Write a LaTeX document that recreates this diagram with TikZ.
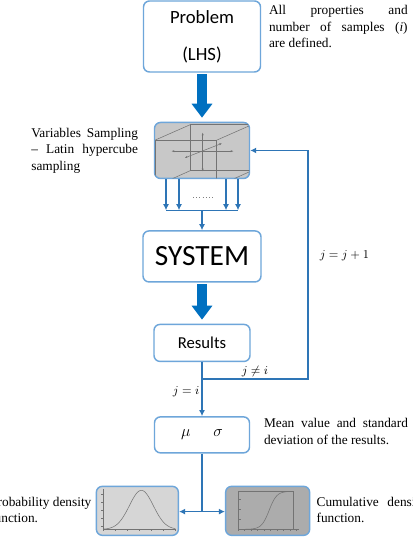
\documentclass[tikz,border=0pt]{standalone}
\usepackage{fontspec}
\setmainfont{Liberation Serif}
\newfontfamily\boxfont{Carlito}
\usepackage{tikz}
\usetikzlibrary{arrows.meta,calc,positioning}
\definecolor{lineblue}{RGB}{46,117,182}
\definecolor{boxblue}{RGB}{110,166,218}
\definecolor{fatblue}{RGB}{0,112,192}
\definecolor{sampgray}{RGB}{200,200,200}
\definecolor{pdfgray}{RGB}{214,214,214}
\definecolor{cdfgray}{RGB}{172,172,172}
\tikzstyle{blk}=[draw=boxblue,line width=1.1pt,rounded corners=4.5pt,fill=white,text centered,inner sep=0pt,font=\boxfont]
\tikzstyle{note}=[inner sep=0pt,font=\fontsize{10}{12.4}\selectfont]
\tikzstyle{lbl}=[text=black,font=\fontsize{9.5}{11}\selectfont]
\tikzstyle{fat}=[fatblue,line width=8pt,-{Triangle[width=15pt,length=10.5pt]},shorten <=1pt,shorten >=3pt]
\tikzstyle{wire}=[lineblue,line width=1pt]
\tikzstyle{plotline}=[black!55,line width=0.4pt]

\begin{document}
\begin{tikzpicture}[
            x=0.75pt,y=-0.75pt,
            >={Latex[length=4.5pt,width=4.5pt]}
        ]
        \useasboundingbox[fill=white] (0,0) rectangle (412,541);
        % flow boxes
        \node [blk,minimum width=87.75pt,minimum height=53.25pt,align=center,font=\boxfont\fontsize{14}{17}\selectfont] (prob) at (202,36.5) {Problem\\[11pt](LHS)};
        \node [blk,fill=sampgray,minimum width=71.25pt,minimum height=42pt,below=36.75pt of prob] (samp) {};
        \node [blk,minimum width=88.5pt,minimum height=38.25pt,below=38.25pt of samp,font=\boxfont\fontsize{22}{26}\selectfont] (sys) {SYSTEM};
        \node [blk,minimum width=72pt,minimum height=27.75pt,below=30.75pt of sys,font=\boxfont\fontsize{12.5}{15}\selectfont] (res) {Results};
        \node [blk,minimum width=71.25pt,minimum height=27pt,below=40.5pt of res,font=\fontsize{13}{15}\selectfont] (stat) {$\mu\hspace{17pt}\sigma$};
        \node [blk,fill=pdfgray,minimum width=61.5pt,minimum height=36.75pt,node distance=24pt and -19pt,below left=of stat] (pdf) {};
        \node [blk,fill=cdfgray,minimum width=63pt,minimum height=36.75pt,node distance=24pt and -19pt,below right=of stat] (cdf) {};

        % side notes
        \node [note,text width=104pt,align=justify,anchor=north west] (n1) at ($(prob.north east)+(7.5,5)$) {All properties and\linebreak number of samples (\textit{i})\linebreak are defined.};
        \node [note,text width=80pt,align=justify,anchor=north east] (n2) at ($(samp.north west)+(-15.5,6)$) {Variables Sampling\linebreak -- Latin hypercube\linebreak sampling};
        \node [note,text width=108pt,align=justify,anchor=north west] (n3) at ($(stat.north east)+(13.5,2)$) {Mean value and standard\linebreak deviation of the results.};
        \node [note,align=left,anchor=north east] (n4) at ($(pdf.north west)+(-4,11)$) {Probability density\\function.};
        \node [note,text width=82pt,align=justify,anchor=north west] (n5) at ($(cdf.north east)+(6,11)$) {Cumulative density\linebreak function.};

        % hypercube sketch
        \begin{scope}
            \clip[rounded corners=4pt] ($(samp.south west)+(0.8,-0.8)$) rectangle ($(samp.north east)+(-0.8,0.8)$);
            \begin{scope}[shift={(samp.center)},plotline]
                \draw (-47,-10.3) rectangle (14.7,36);
                \draw (-11.3,-26) rectangle (50.4,20);
                \draw (-47,-10.3) -- (-11.3,-26) (14.7,-10.3) -- (50.4,-26)
                      (-47,36) -- (-11.3,20) (14.7,36) -- (50.4,20);
                \draw[{Stealth[length=2pt,width=1.5pt]}-{Stealth[length=2pt,width=1.5pt]}] (-30.3,0.7) -- (31.3,0.7);
                \draw[{Stealth[length=2pt,width=1.5pt]}-{Stealth[length=2pt,width=1.5pt]}] (0.7,-17.7) -- (0.7,20.7);
                \draw[{Stealth[length=2pt,width=1.5pt]}-{Stealth[length=2pt,width=1.5pt]}] (-17,7.3) -- (19.7,-7);
            \end{scope}
        \end{scope}

        % density plots
        \begin{scope}[shift={(pdf.center)},plotline]
            \draw (-34,-21.5) -- (-34,18.5) -- (38,18.5);
            \foreach \t in {-34,-22,...,38} \draw (\t,18.5) -- (\t,20.5);
            \foreach \t in {-16.5,-8.5,...,18.5} \draw (-34,\t) -- (-36,\t);
            \draw[domain=-34:38,samples=70] plot (\x,{18.5-39*exp(-0.5*((\x-4)/12)*((\x-4)/12))});
        \end{scope}
        \begin{scope}[shift={(cdf.center)},plotline]
            \draw (-29.5,-19.5) rectangle (25.5,18.5);
            \draw (25.5,18.5) -- (31.5,18.5);
            \foreach \t in {-29.5,-23,...,31} \draw (\t,18.5) -- (\t,20.5);
            \foreach \t in {-12,-2,8} \draw (-29.5,\t) -- (-26.5,\t);
            \draw[domain=-29.5:25.5,samples=70] plot (\x,{18.5-38/(1+exp(-(\x-1.5)/3.8))});
        \end{scope}

        % connectors
        \draw[fat] (prob) -- (samp);
        \draw[fat] (sys) -- (res);
        \coordinate [below=23.25pt of samp.south] (bus);
        \foreach \dx in {-36,-23,24,36}
            \draw[wire,->] ($(samp.south)+(\dx,0)$) -- ($(bus)+(\dx,0)$);
        \draw[wire] ($(bus)+(-36,0)$) -- ($(bus)+(36,0)$);
        \draw[gray,dotted] ($(samp.south)+(-9,18)$) -- ++(22,0);
        \draw[wire,->] (bus) -- (sys);
        \coordinate [below=12.75pt of res.south] (fork);
        \coordinate [right=79.5pt of fork] (back);
        \draw[wire,->] (res) -- (stat) node[lbl,left,pos=0.55,inner sep=1.5pt] {$j=i$};
        \draw[wire,->] (fork) -- (back) node[lbl,midway,above,inner sep=1.5pt] {$j\neq i$}
            |- (samp.east) node[lbl,pos=0.27,right=5pt] {$j=j+1$};
        \coordinate [below=43.5pt of stat.south] (split);
        \draw[wire] (stat) -- (split);
        \draw[wire,->] (split) -- (split -| pdf.east);
        \draw[wire,->] (split) -- (split -| cdf.west);
    \end{tikzpicture}
\end{document}
